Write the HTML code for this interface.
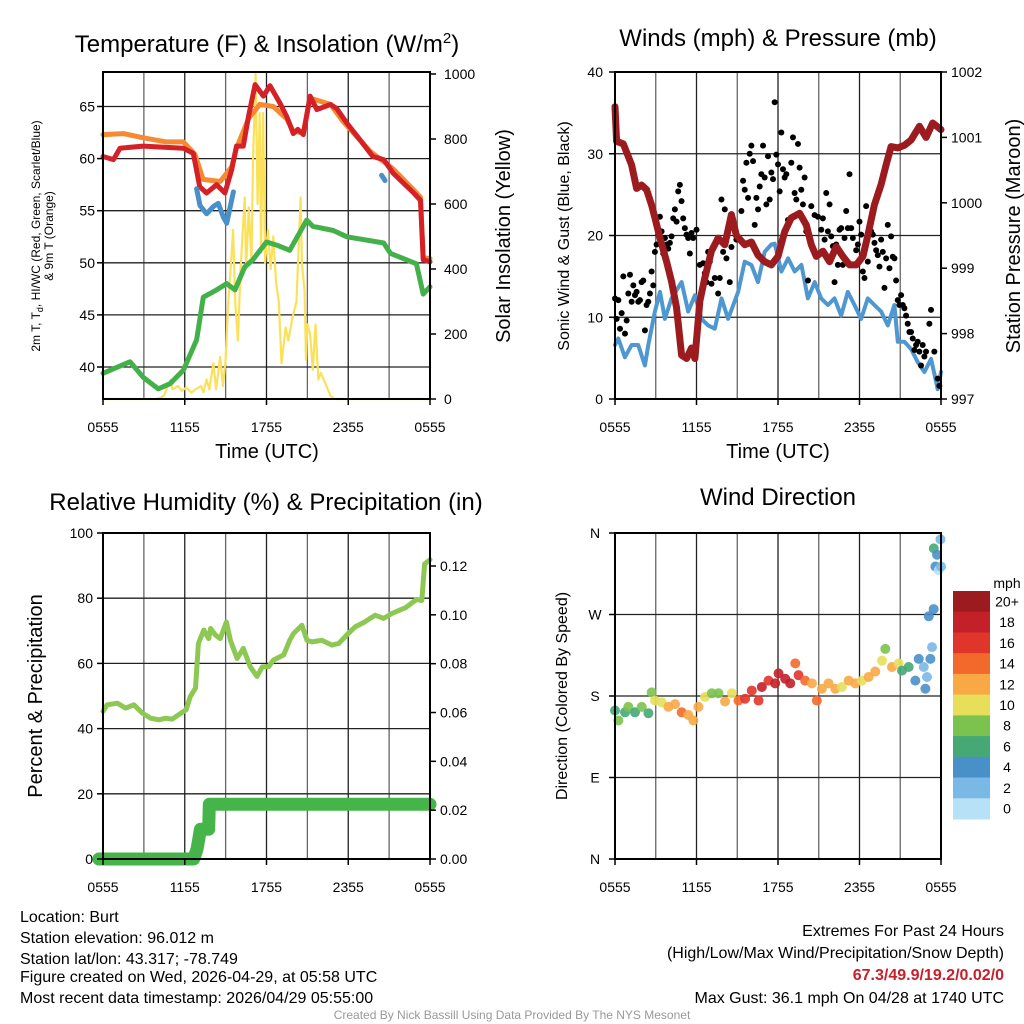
<!DOCTYPE html>
<html><head><meta charset="utf-8"><title>Burt Meteogram</title>
<style>
html,body{margin:0;padding:0;background:#fff;}
svg{display:block;font-family:"Liberation Sans",Arial,sans-serif;}
</style></head>
<body>
<svg id="root" width="1024" height="1024" viewBox="0 0 1024 1024" xmlns="http://www.w3.org/2000/svg">
<rect x="0" y="0" width="1024" height="1024" fill="#fff"/>
<g id="p1"></g>
<g id="p2"></g>
<g id="p3"></g>
<g id="p4"></g>
<text x="267" y="52" font-size="24" text-anchor="middle">Temperature (F) &amp; Insolation (W/m<tspan dy="-9" font-size="15">2</tspan><tspan dy="9">)</tspan></text>
<text x="778" y="46" font-size="24" text-anchor="middle">Winds (mph) &amp; Pressure (mb)</text>
<text x="266" y="510" font-size="24" text-anchor="middle">Relative Humidity (%) &amp; Precipitation (in)</text>
<text x="778" y="505" font-size="24" text-anchor="middle">Wind Direction</text>
<text x="267" y="458" font-size="20" text-anchor="middle">Time (UTC)</text>
<text x="778" y="458" font-size="20" text-anchor="middle">Time (UTC)</text>
<text transform="translate(40,236) rotate(-90)" font-size="12" text-anchor="middle">2m T, T<tspan dy="3" font-size="9">d</tspan><tspan dy="-3">, HI/WC (Red, Green, Scarlet/Blue)</tspan></text>
<text transform="translate(53,236) rotate(-90)" font-size="12" text-anchor="middle">&amp; 9m T (Orange)</text>
<text transform="translate(510,236) rotate(-90)" font-size="20" text-anchor="middle">Solar Insolation (Yellow)</text>
<text transform="translate(569,236) rotate(-90)" font-size="16" text-anchor="middle">Sonic Wind &amp; Gust (Blue, Black)</text>
<text transform="translate(1020,236) rotate(-90)" font-size="20" text-anchor="middle">Station Pressure (Maroon)</text>
<text transform="translate(42,696) rotate(-90)" font-size="20" text-anchor="middle">Percent &amp; Precipitation</text>
<text transform="translate(567,696) rotate(-90)" font-size="16" text-anchor="middle">Direction (Colored By Speed)</text>
<g font-size="16">
<text x="20" y="922">Location: Burt</text>
<text x="20" y="943">Station elevation: 96.012 m</text>
<text x="20" y="964">Station lat/lon: 43.317; -78.749</text>
<text x="20" y="982">Figure created on Wed, 2026-04-29, at 05:58 UTC</text>
<text x="20" y="1003">Most recent data timestamp: 2026/04/29 05:55:00</text>
</g>
<g font-size="16" text-anchor="end">
<text x="1004" y="936">Extremes For Past 24 Hours</text>
<text x="1004" y="958">(High/Low/Max Wind/Precipitation/Snow Depth)</text>
<text x="1004" y="980" fill="#c8202a" font-weight="bold">67.3/49.9/19.2/0.02/0</text>
<text x="1004" y="1003">Max Gust: 36.1 mph On 04/28 at 1740 UTC</text>
</g>
<text x="512" y="1019" font-size="12" fill="#999" text-anchor="middle">Created By Nick Bassill Using Data Provided By The NYS Mesonet</text>
</svg>
<script>
// ---------- DATA ----------
const xTickLabels = ["0555","1155","1755","2355","0555"];
const xTickHours = [0,6,12,18,24];
const tempTicks = [40,45,50,55,60,65];
const solarTicks = [0,200,400,600,800,1000];
const windTicks = [0,10,20,30,40];
const pressTicks = [997,998,999,1000,1001,1002];
const rhTicks = [0,20,40,60,80,100];
const precipTicks = [0,0.02,0.04,0.06,0.08,0.10,0.12];
const dirTickLabels = ["N","E","S","W","N"];
const dirTickDeg = [0,90,180,270,360];

const redHours = [0,0.76,1.25,2.96,5.9,6.63,7.1,7.6,8.34,8.95,9.44,9.8,10.3,10.67,11.16,11.77,12.26,13.0,13.5,13.97,14.3,14.7,15.2,15.7,16.7,17.15,17.9,18.86,19.8,20.6,21.3,22.8,23.3,23.5,24];
const redTemp = [60.2,59.9,61,61.2,61,60.5,57.3,56.7,57.5,56.7,58.9,61.2,61.2,64,67.1,66,67,65.3,64,62.4,62.8,62.3,66,64.7,65.2,64.8,63.4,61.8,60.2,59.9,58.6,56.7,56,50.3,50.1];
const orangeHours = [0,1.5,2.96,4.65,5.9,6.75,7.35,8.6,9.44,9.8,10.67,11.5,12.5,13.5,13.97,14.7,15.2,16.7,17.6,19.6,21.3,22.8,23.3,23.5,24];
const orangeTemp = [62.3,62.4,62,61.6,61.6,60.4,58,57.8,59.2,61,63.8,65.2,65,63.8,62.6,62.5,65.8,65.2,63.6,60.7,59,57,56.3,50.5,50.4];
const hiwcHours = [6.87,7.12,7.6,8.1,8.46,8.83,9.08,9.57,null,20.45,20.7];
const hiwcTemp = [57.1,55.5,54.7,55.4,55.7,54.4,53.8,56.8,null,58.4,57.9];
const dewHours = [0,1.98,2.96,4.06,4.92,5.9,6.87,7.36,8.34,9.08,9.69,10.4,11.0,12.0,12.75,13.7,14.95,15.4,16.9,17.9,20.6,21.1,23.0,23.5,24];
const dewTemp = [39.4,40.5,39,37.9,38.4,39.7,42.6,46.7,47.4,48,47.4,49.6,50.3,52,51.7,51.2,54.1,53.5,53.1,52.5,51.9,50.9,49.9,47,47.7];
const solarHours = [0,4.0,4.46,4.95,5.1,5.5,5.8,6.1,6.5,6.8,7.2,7.37,7.6,7.8,8.1,8.3,8.6,8.8,9.0,9.2,9.43,9.55,9.7,9.9,10.1,10.4,10.5,10.7,10.9,11.0,11.2,11.35,11.5,11.6,11.75,11.9,12.1,12.3,12.5,12.7,12.9,13.1,13.4,13.6,13.9,14.2,14.5,14.6,14.8,14.9,15.0,15.2,15.4,15.6,15.8,16.0,16.3,16.7,17.0,24];
const solarVal = [0,0,10,58,30,40,25,35,20,30,40,20,60,30,110,30,130,40,120,300,440,520,300,180,400,620,400,590,420,720,1000,600,880,450,880,420,520,400,500,360,300,110,220,180,250,300,620,420,330,120,230,200,90,230,60,80,50,10,0,0];

const pressHours = [0,0.12,0.61,1.22,1.59,1.96,2.33,2.69,2.94,3.31,3.8,4.16,4.53,4.9,5.27,5.63,5.88,6.25,6.61,7.1,7.59,8.08,8.57,8.94,9.55,10.04,10.53,11.02,11.51,12.0,12.49,12.98,13.59,14.08,14.45,14.82,15.31,15.8,16.29,16.78,17.27,17.76,18.25,18.61,19.1,19.59,19.96,20.33,20.82,21.31,21.8,22.41,22.9,23.39,24];
const pressMb = [1001.47,1000.94,1000.9,1000.58,1000.22,1000.27,1000.2,999.97,999.77,999.46,999.1,998.8,998.4,997.67,997.62,997.78,997.62,998.5,998.85,999.26,999.46,999.36,999.82,999.5,999.36,999.4,999.2,999.1,999.05,999.18,999.56,999.77,999.84,999.66,999.36,999.18,999.26,999.1,999.33,999.18,999.05,999.05,999.18,999.5,999.97,1000.28,1000.58,1000.86,1000.84,1000.88,1000.96,1001.17,1001.0,1001.22,1001.12];
const windHours = [0,0.24,0.73,1.22,1.71,2.2,2.45,2.94,3.31,3.67,4.16,4.9,5.39,5.88,6.37,6.86,7.35,7.84,8.33,9.06,9.55,10.04,10.53,11.02,11.51,11.76,12.25,12.74,13.23,13.72,14.2,14.7,15.18,15.67,16.16,16.65,17.14,17.63,18.12,18.61,19.1,19.59,20.08,20.57,20.82,21.31,21.8,22.29,22.78,23.27,23.76,24];
const windMph = [6.6,7.4,5.1,6.6,6.6,4.1,6.6,10.7,13.1,9.8,12.3,14.3,10.7,12.7,9.8,9.0,8.6,12.3,9.8,13.1,16.8,16.4,14.3,18,18.9,19,15.6,17.2,15.6,16.4,12.3,14.3,12.3,11.5,12.3,10.2,13.1,11.5,9.8,12.3,11.5,10.7,9.0,11.5,7,7,6.1,4.5,3.3,4.9,1.2,3.3];
const gustStepHours = 24/196;
const gustMph = [12.3,9.8,12.1,8.6,10.5,15,8,9.6,12.9,15.2,11.9,13.9,12.7,13.1,11.9,12.1,14.3,14.5,8.4,11.5,
11.9,12.9,15.6,13.9,18,18.9,20.1,22.3,20.5,17.8,19.7,18.9,18.4,19.1,19.9,22.1,23.2,21.7,25.4,26.2,
24.2,22.1,20.9,20.1,19.7,17.8,20.3,19.7,null,20.7,null,16.4,null,16.6,15.4,14.3,18,16.8,14.1,null,
14.8,null,12.9,14.8,24.4,18,23.2,17.2,null,14.3,18.6,null,null,19.5,null,null,23,26.7,25.6,28.9,
24.6,30,31,29.1,21.3,24.6,23.2,26,27.5,31,27.1,23.8,29.7,24.4,27.7,26.9,36.3,29.9,28.7,25.4,
32.6,28.1,27.1,27.5,21.9,null,28.9,32,25.2,24.4,31.2,28.3,25.6,23.8,27.1,20.5,14.5,null,23.6,null,
22.5,null,22.3,null,20.7,22.1,19.5,25.2,20.5,23.8,19.9,18.7,14.3,18.9,16.4,20.7,20.9,16.4,19.7,23,
20.9,27.5,20.9,19.7,null,18.2,18.9,21.7,20.1,15.6,14.8,23.6,16.8,20.5,20.5,20.1,19.1,18.2,17.6,16.2,
19.5,18,13.6,17.2,21.3,16,19.9,17.4,17.2,14.5,12.1,11.5,12.7,11.5,11.1,10.2,9.2,8.2,8.2,7.4,
6,6.6,7,5.8,4.1,6.6,5.2,5.8,null,9.2,10.9,null,5.8,null,2.5,1.6];

const rhHours = [0,0.3,1.05,1.66,2.27,2.88,3.5,4.1,4.6,5.08,5.57,6.1,6.4,6.79,7.0,7.4,7.76,7.9,8.25,8.6,9.06,9.35,9.84,10.3,10.8,11.3,11.7,12.16,12.5,13.26,13.7,13.99,14.6,14.97,15.33,16.06,16.8,17.3,18.0,18.5,19.2,19.97,20.6,21.2,22.2,23.0,23.4,23.6,24];
const rhPct = [45.3,47.3,47.8,46.3,47.3,44.8,43.2,42.7,43.2,42.9,44.3,45.8,49.8,52.4,66.1,70.2,67.6,70.7,68.7,67.6,72.7,67.1,61.5,64.6,59,56,59,59,61,62.6,67.1,69.2,71.7,67.1,66.6,67.1,65.6,66.1,69.2,71.2,72.7,74.8,73.8,75.3,77.1,79.6,79.3,90.5,91.8];
const precipHours = [-0.3,6.66,6.9,7.03,7.15,7.76,7.8,24];
const precipIn = [0,0,0.004,0.0082,0.0122,0.0122,0.0224,0.0224];

const dirHours = [0,0.25,0.74,0.98,1.47,1.97,2.46,2.7,2.95,3.44,3.93,4.42,4.91,5.4,5.77,6.14,6.63,7.13,7.62,8.1,8.6,9.09,9.58,10.07,10.57,10.81,11.3,11.79,12.04,12.53,12.9,13.27,13.51,14.0,14.5,14.86,15.23,15.72,16.22,16.7,17.2,17.69,18.18,18.67,19.16,19.66,19.9,20.39,20.88,21.13,21.62,22.11,22.36,22.73,22.85,22.97,23.1,23.22,23.34,23.46,23.47,23.59,23.71,23.83,23.96,24];
const dirDeg = [164,153,162,168,162,168,161,184,175,173,168,171,162,159,153,168,179,183,183,174,183,175,177,186,175,190,197,194,205,199,194,216,203,197,194,175,188,194,188,190,197,194,197,201,207,219,232,212,216,208,212,197,221,212,188,201,268,221,234,276,343,323,336,319,353,323];
const dirSpeed = [6,8,6,8,6,8,6,8,10,10,12,12,14,12,12,12,10,8,8,12,10,14,16,16,16,18,16,18,18,18,18,14,16,14,12,14,12,12,12,10,12,12,10,12,12,10,8,12,10,6,6,4,4,2,4,2,4,4,2,4,6,4,4,0,2,2];
const speedBins = [0,2,4,6,8,10,12,14,16,18,20];
const speedLabels = ["0","2","4","6","8","10","12","14","16","18","20+"];
const speedColors = ["#b6e1f7","#7ab8e5","#4a90c8","#46a874","#7cc24e","#e7df5a","#f8a945","#f26a2b","#e0352b","#c4202a","#9b1b1e"];

// ---------- HELPERS ----------
const NS = "http://www.w3.org/2000/svg";
function el(tag, parent){ const e=document.createElementNS(NS,tag); parent.appendChild(e); return e; }
function path(parent, xs, ys, fx, fy, color, w, name){
  let d="", pen=false;
  for(let i=0;i<xs.length;i++){
    if(xs[i]===null||ys[i]===null){pen=false;continue;}
    d += (pen?"L":"M")+fx(xs[i]).toFixed(1)+","+fy(ys[i]).toFixed(1);
    pen=true;
  }
  const p=el("path",parent);
  p.setAttribute("d",d); p.setAttribute("fill","none"); p.setAttribute("stroke",color);
  p.setAttribute("stroke-width",w); p.setAttribute("stroke-linejoin","round"); p.setAttribute("stroke-linecap","round");
  
  
  return p;
}
function line(parent,x1,y1,x2,y2,color,w,name){
  const l=el("line",parent);
  l.setAttribute("x1",x1);l.setAttribute("y1",y1);l.setAttribute("x2",x2);l.setAttribute("y2",y2);
  l.setAttribute("stroke",color);l.setAttribute("stroke-width",w);
  
  
}
function text(parent,x,y,s,size,anchor,name){
  const t=el("text",parent);
  t.setAttribute("x",x);t.setAttribute("y",y);t.setAttribute("font-size",size);t.setAttribute("text-anchor",anchor);
  t.textContent=s;
  
  
}
function frame(g,x0,y0,x1,y1,fx,hGridY){
  for(let h=3;h<24;h+=3){ line(g,fx(h),y0,fx(h),y1,(h%6===0)?"#222":"#666",1.3,"vertical-gridline"); }
  hGridY.forEach(y=>line(g,x0,y,x1,y,"#222",1.3,"horizontal-gridline"));
}
function border(g,x0,y0,x1,y1){
  const r=el("rect",g);
  r.setAttribute("x",x0);r.setAttribute("y",y0);r.setAttribute("width",x1-x0);r.setAttribute("height",y1-y0);
  r.setAttribute("fill","none");r.setAttribute("stroke","#000");r.setAttribute("stroke-width",2);
  
  
}
function xTicks(g,fx,yb,labY){
  xTickHours.forEach((h,i)=>{
    line(g,fx(h),yb,fx(h),yb+6,"#000",1.5,"x-tick");
    text(g,fx(h),labY,xTickLabels[i],14,"middle","x-tick-label");
  });
}

// ---------- PANEL 1 ----------
(function(){
  const g=document.getElementById("p1");
  const x0=103,x1=430,y0=72,y1=399;
  const fx=h=>x0+h*(x1-x0)/24;
  const fT=t=>367-(t-40)*10.42;
  const fS=v=>399-v*0.325;
  frame(g,x0,y0,x1,y1,fx,tempTicks.map(fT));
  path(g,solarHours,solarVal,fx,fS,"#fbe15a",2.2,"insolation-line");
  path(g,dewHours,dewTemp,fx,fT,"#44b04a",5,"dewpoint-line");
  path(g,orangeHours,orangeTemp,fx,fT,"#f58a32",5,"9m-temperature-line");
  path(g,redHours,redTemp,fx,fT,"#d42127",5,"2m-temperature-line");
  path(g,hiwcHours,hiwcTemp,fx,fT,"#4a90c8",5,"heat-index-line");
  border(g,x0,y0,x1,y1);
  tempTicks.forEach(t=>{ line(g,x0-6,fT(t),x0,fT(t),"#000",1.5,"temp-tick"); text(g,x0-8,fT(t)+5,String(t),14,"end","temp-tick-label"); });
  solarTicks.forEach(v=>{ line(g,x1,fS(v),x1+6,fS(v),"#000",1.5,"solar-tick"); text(g,x1+14,fS(v)+5,String(v),14,"start","solar-tick-label"); });
  xTicks(g,fx,y1,432);
})();

// ---------- PANEL 2 ----------
(function(){
  const g=document.getElementById("p2");
  const x0=615,x1=941,y0=72,y1=399;
  const fx=h=>x0+h*(x1-x0)/24;
  const fW=v=>399-v*8.175;
  const fP=p=>399-(p-997)*65.4;
  frame(g,x0,y0,x1,y1,fx,[10,20,30].map(fW));
  path(g,windHours,windMph,fx,fW,"#4f97d0",4,"wind-speed-line");
  gustMph.forEach((v,i)=>{
    if(v===null) return;
    const c=el("circle",g);
    c.setAttribute("cx",fx(i*gustStepHours));c.setAttribute("cy",fW(v));c.setAttribute("r",3);c.setAttribute("fill","#000");
    
    
  });
  path(g,pressHours,pressMb,fx,fP,"#9b1b1e",7,"pressure-line");
  border(g,x0,y0,x1,y1);
  windTicks.forEach(v=>{ line(g,x0-6,fW(v),x0,fW(v),"#000",1.5,"wind-tick"); text(g,x0-12,fW(v)+5,String(v),14,"end","wind-tick-label"); });
  pressTicks.forEach(p=>{ line(g,x1,fP(p),x1+6,fP(p),"#000",1.5,"pressure-tick"); text(g,x1+10,fP(p)+5,String(p),14,"start","pressure-tick-label"); });
  xTicks(g,fx,y1,432);
})();

// ---------- PANEL 3 ----------
(function(){
  const g=document.getElementById("p3");
  const x0=103,x1=430,y0=533,y1=859;
  const fx=h=>x0+h*(x1-x0)/24;
  const fR=v=>859-v*3.26;
  const fPr=v=>859-v/0.12*293;
  frame(g,x0,y0,x1,y1,fx,[20,40,60,80].map(fR));
  path(g,rhHours,rhPct,fx,fR,"#8dc853",5,"humidity-line");
  path(g,precipHours,precipIn,fx,fPr,"#45b549",13,"precipitation-line");
  border(g,x0,y0,x1,y1);
  rhTicks.forEach(v=>{ line(g,x0-6,fR(v),x0,fR(v),"#000",1.5,"rh-tick"); text(g,x0-10,fR(v)+5,String(v),14,"end","rh-tick-label"); });
  precipTicks.forEach(v=>{ line(g,x1,fPr(v),x1+6,fPr(v),"#000",1.5,"precip-tick"); text(g,x1+10,fPr(v)+5,v.toFixed(2),14,"start","precip-tick-label"); });
  xTicks(g,fx,y1,892);
})();

// ---------- PANEL 4 ----------
(function(){
  const g=document.getElementById("p4");
  const x0=615,x1=941,y0=533,y1=859;
  const fx=h=>x0+h*(x1-x0)/24;
  const fD=d=>859-d*326/360;
  frame(g,x0,y0,x1,y1,fx,[90,180,270].map(fD));
  function colorFor(s){ let k=0; for(let i=0;i<speedBins.length;i++){ if(s>=speedBins[i]) k=i; } return speedColors[k]; }
  dirHours.forEach((h,i)=>{
    const c=el("circle",g);
    c.setAttribute("cx",fx(h));c.setAttribute("cy",fD(dirDeg[i]));c.setAttribute("r",5);
    c.setAttribute("fill",colorFor(dirSpeed[i]));c.setAttribute("fill-opacity","0.9");
    
    
  });
  border(g,x0,y0,x1,y1);
  dirTickDeg.forEach((d,i)=>{ line(g,x0-6,fD(d),x0,fD(d),"#000",1.5,"direction-tick"); text(g,x0-20,fD(d)+5,dirTickLabels[i],14,"middle","direction-tick-label"); });
  xTicks(g,fx,y1,892);
  // colorbar
  const cb=el("g",g);
  
  
  const cellH=228/speedColors.length;
  text(cb,1007,588,"mph",14,"middle","colorbar-title");
  for(let i=0;i<speedColors.length;i++){
    const k=speedColors.length-1-i;
    const r=el("rect",cb);
    r.setAttribute("x",953);r.setAttribute("y",(591+i*cellH).toFixed(1));r.setAttribute("width",37);r.setAttribute("height",(cellH+0.5).toFixed(1));
    r.setAttribute("fill",speedColors[k]);
    
    
    text(cb,1007,591+i*cellH+cellH/2+5,speedLabels[k],14,"middle","colorbar-label");
  }
})();
</script>
</body></html>
